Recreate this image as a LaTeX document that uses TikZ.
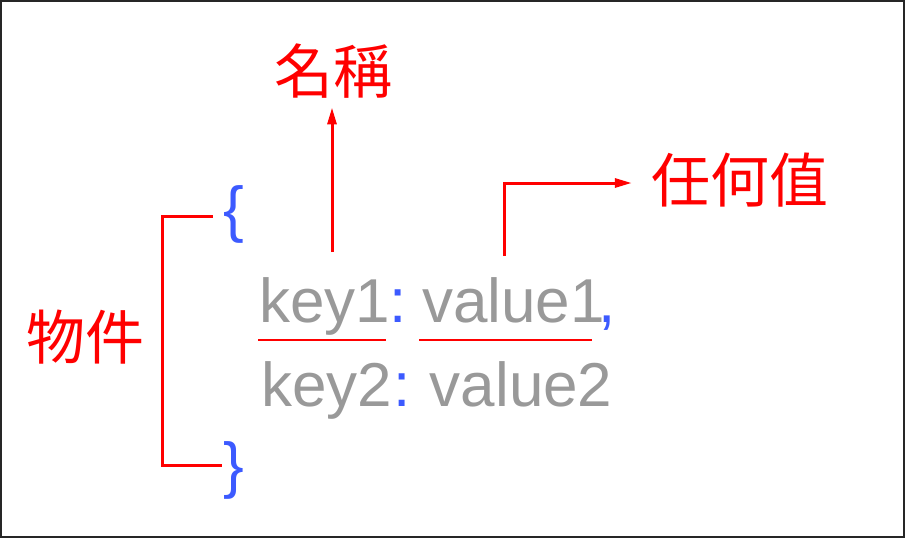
\documentclass[tikz,border=0pt]{standalone}
\usepackage{fontspec}
\setmainfont{Liberation Sans}
\newfontfamily\cjk{Noto Sans CJK TC}
\usepackage{xcolor}
\usepackage{tikz}
\usetikzlibrary{positioning, arrows.meta}
\definecolor{codegray}{HTML}{999999}
\definecolor{markblue}{HTML}{3C5AFF}
\definecolor{notered}{HTML}{FF0000}

\begin{document}
\begin{tikzpicture}[x=1pt,y=-1pt]
	\tikzstyle{code}=[text=codegray,font=\fontsize{62}{62}\selectfont,inner sep=0pt,anchor=base west]
	\tikzstyle{punct}=[code,text=markblue]
	\tikzstyle{note}=[text=notered,font=\cjk\fontsize{59}{59}\selectfont,inner sep=0pt]
	\tikzstyle{redline}=[draw=notered,line width=3pt]
	\tikzstyle{pointer}=[redline,-{Triangle[length=17pt,width=9pt]}]
	\useasboundingbox (0,0) rectangle (905,538);
	\draw[line width=2pt,black!85] (1,1) rectangle (904,537);
	% braces and code lines
	\node[punct,anchor=center](open) at (234,214){\{};
	\node[punct,anchor=center](close) at (234,470){\}};
	\node[code](key1) at (259,322){key1};
	\node[punct](colon1) at (389,322){:};
	\node[code](value1) at (422,322){value1};
	\node[punct](comma1) at (598,322){,};
	\node[code](key2) at (260.8,406){key2};
	\node[punct](colon2) at (393.4,406){:};
	\node[code](value2) at (429.6,406){value2};
	% labels
	\node[note](name) at (333,71){名稱};
	\node[note](anything) at (740,180){任何值};
	\node[note](object) at (86,337){物件};
	\coordinate (keytop) at (332,252);
	\coordinate (valtop) at (504,256);
	\coordinate (bend) at (162,340);
	\draw[redline] ([shift={(-10.6,2)}]open.west) -| (bend) |- ([shift={(-1.6,-5)}]close.west);
	\draw[redline,line width=2pt] ([shift={(-1,18)}]key1.base west) -- ([shift={(-4,18)}]key1.base east);
	\draw[redline,line width=2pt] ([shift={(-3,18)}]value1.base west) -- ([shift={(-13,18)}]value1.base east);
	\draw[pointer,shorten >=9pt] (keytop) -- (keytop |- name.south);
	\draw[pointer,shorten >=19.5pt] (valtop) |- ([yshift=-3pt]anything.west);
\end{tikzpicture}
\end{document}
